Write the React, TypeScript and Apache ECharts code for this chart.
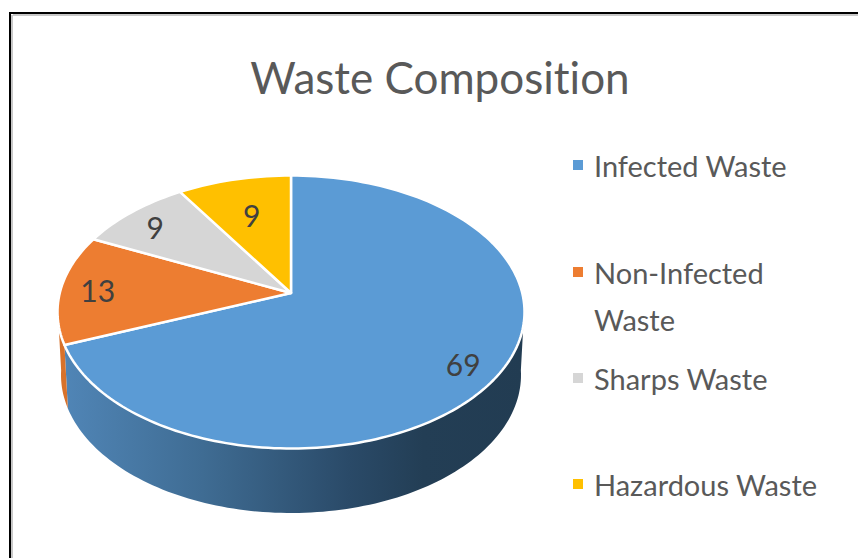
import React, { useEffect, useRef } from "react";
import * as echarts from "echarts";

const categories = ["Infected Waste", "Non-Infected Waste", "Sharps Waste", "Hazardous Waste"];
const values = [69, 13, 9, 9];
const colors = ["#5B9BD5", "#ED7D31", "#D6D6D6", "#FFC000"];
const legendCenters = [165, 272, 378, 484];
const labelInsetX = [0.83, 0.84, 0.855, 0.69];
const labelInsetY = [0.87, 0.84, 0.82, 0.69];

const CX = 291, TOP_CY = 312, TOP_RX = 233.5, TOP_RY = 136.5;
const BOT_CY = 375, BOT_RX = 230, BOT_RY = 138;
const APEX_Y = 293;
const PERSPECTIVE = 0.87;
const total = values.reduce((a, b) => a + b, 0);

// true pie angle (deg clockwise from 12 o'clock) -> angle on the projected ellipse
function project(deg: number) {
  if (deg <= 0 || deg >= 360) return deg;
  if (deg === 180) return 180;
  const p = 2 * Math.atan(PERSPECTIVE * Math.tan((deg / 2) * Math.PI / 180));
  const d = (p * 180) / Math.PI;
  return d < 0 ? d + 360 : d;
}
const pt = (deg: number, cy: number, rx: number, ry: number) => {
  const a = (deg * Math.PI) / 180;
  return [CX + rx * Math.sin(a), cy - ry * Math.cos(a)];
};
function arc(from: number, to: number, cy: number, rx: number, ry: number) {
  const out: number[][] = [];
  const n = Math.max(2, Math.ceil(Math.abs(to - from) / 1.5));
  for (let i = 0; i <= n; i++) out.push(pt(from + ((to - from) * i) / n, cy, rx, ry));
  return out;
}

function sliceRenderer(index: number) {
  return (_params: any, api: any) => {
    const value = api.value(0);
    const before = values.slice(0, index).reduce((a, b) => a + b, 0);
    const start = project((before / total) * 360);
    const end = project(((before + value) / total) * 360);
    const mid = project(((before + value / 2) / total) * 360);
    const children: any[] = [];
    const wallFrom = Math.max(start, 88);
    const wallTo = Math.min(end, 272);
    if (wallTo > wallFrom) {
      const upper = arc(wallFrom, wallTo, TOP_CY, TOP_RX, TOP_RY);
      const lower = arc(wallTo, wallFrom, BOT_CY, BOT_RX, BOT_RY);
      const solid = index !== 0;
      children.push({
        type: "polygon",
        z2: 1,
        shape: { points: upper.concat(lower) },
        style: {
          fill: solid
            ? "#D8722B"
            : new echarts.graphic.LinearGradient(0, 0, 1, 0, [
                { offset: 0, color: "#5085B6" },
                { offset: 0.3, color: "#3F6C93" },
                { offset: 0.62, color: "#2A4A68" },
                { offset: 0.78, color: "#233E55" },
                { offset: 1, color: "#223C52" },
              ]),
          stroke: "none",
        },
      });
    }
    children.push({
      type: "polygon",
      z2: 2,
      shape: { points: [[CX, APEX_Y]].concat(arc(start, end, TOP_CY, TOP_RX, TOP_RY)) },
      style: { fill: colors[index], stroke: "#FFFFFF", lineWidth: 2.5, lineJoin: "round" },
    });
    const rim = pt(mid, TOP_CY, TOP_RX, TOP_RY);
    children.push({
      type: "text",
      z2: 3,
      x: CX + (rim[0] - CX) * labelInsetX[index],
      y: APEX_Y + (rim[1] - APEX_Y) * labelInsetY[index],
      style: {
        text: String(value),
        fill: "#404040",
        font: "30px Lato",
        align: "center",
        verticalAlign: "middle",
      },
    });
    return { type: "group", children };
  };
}

export default function App() {
  const ref = useRef<HTMLDivElement>(null);
  useEffect(() => {
    document.body.style.margin = "0";
    const chart = echarts.init(ref.current!, undefined, { renderer: "svg" });
    chart.setOption({
      animation: false,
      backgroundColor: "#FFFFFF",
      title: {
        text: "Waste Composition",
        left: 435,
        top: 50,
        textAlign: "center",
        textStyle: { fontFamily: "Lato", fontSize: 44, fontWeight: "normal", color: "#595959" },
      },
      legend: categories.map((name, i) => {
        const two = name.startsWith("Non-");
        return {
          data: [{ name, icon: "path://M0 0H10V10H0Z" }],
          orient: "vertical",
          left: 573,
          top: legendCenters[i] - (two ? 70.5 : 20),
          padding: 0,
          itemWidth: 22,
          itemHeight: 10,
          itemGap: 0,
          selectedMode: false,
          formatter: (n: string) => n.replace("Non-Infected Waste", "\nNon-Infected\nWaste"),
          textStyle: {
            fontFamily: "Lato",
            fontSize: 29,
            color: "#595959",
            lineHeight: two ? 47 : 40,
          },
        };
      }),
      series: categories.map((name, i) => ({
        type: "custom",
        name,
        coordinateSystem: "none",
        itemStyle: { color: colors[i] },
        data: [[values[i]]],
        encode: { value: 0 },
        renderItem: sliceRenderer(i),
        silent: true,
      })),
      graphic: [
        { type: "line", shape: { x1: 13, y1: 15, x2: 858, y2: 15 }, style: { stroke: "#C8C8C8", lineWidth: 2 }, z: -1 },
        { type: "line", shape: { x1: 12, y1: 15, x2: 12, y2: 558 }, style: { stroke: "#C8C8C8", lineWidth: 2 }, z: -1 },
        { type: "line", shape: { x1: 9, y1: 13, x2: 858, y2: 13 }, style: { stroke: "#000000", lineWidth: 2 } },
        { type: "line", shape: { x1: 10, y1: 13, x2: 10, y2: 558 }, style: { stroke: "#000000", lineWidth: 2 } },
      ],
    });
    return () => chart.dispose();
  }, []);
  return <div ref={ref} style={{ width: 858, height: 558, fontVariantLigatures: "none" }} />;
}
